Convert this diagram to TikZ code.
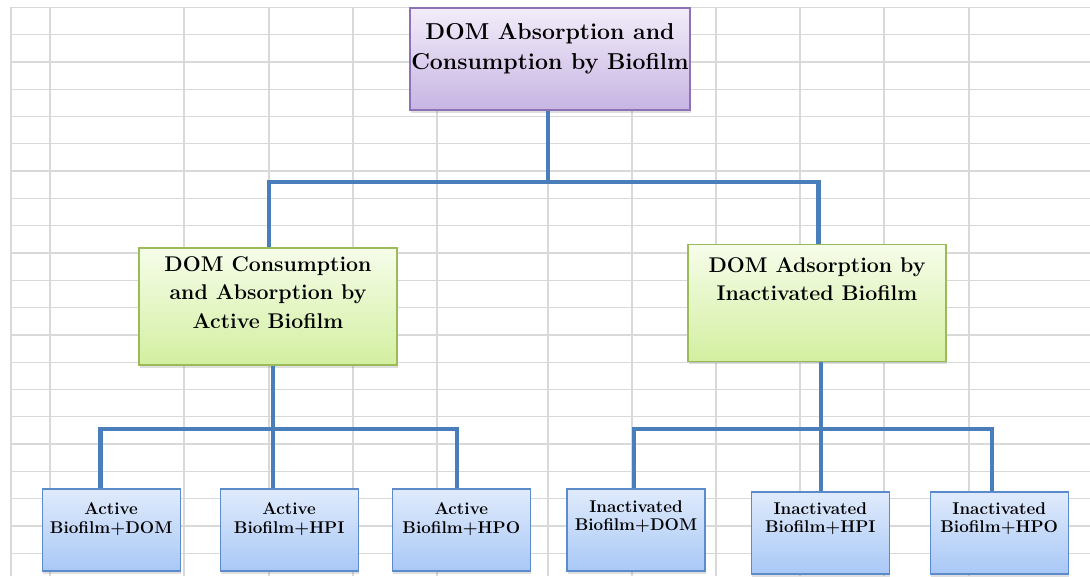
\documentclass[tikz,border=0pt]{standalone}
\usepackage{tikz}
\usetikzlibrary{positioning,shadows}

\definecolor{gridgray}{HTML}{D9D9D9}
\definecolor{linkblue}{HTML}{4A7EBB}
\definecolor{rootTop}{HTML}{F2ECF9}
\definecolor{rootBot}{HTML}{C7B5E3}
\definecolor{rootEdge}{HTML}{8E72B6}
\definecolor{midTop}{HTML}{F6FDEA}
\definecolor{midBot}{HTML}{D3EFA0}
\definecolor{midEdge}{HTML}{9BBB59}
\definecolor{leafTop}{HTML}{E0EBFC}
\definecolor{leafBot}{HTML}{A9C8F6}
\definecolor{leafEdge}{HTML}{5B8BCB}

\tikzset{
  gridline/.style={gridgray, line width=1.3pt},
  link/.style={linkblue, line width=4.5pt},
  box/.style={draw, line width=1.2pt, inner sep=0pt,
    drop shadow={shadow xshift=0.5pt, shadow yshift=-2.5pt, opacity=.25}},
  rootbox/.style={box, draw=rootEdge, top color=rootTop, bottom color=rootBot,
    minimum width=280pt, minimum height=102pt},
  midbox/.style={box, draw=midEdge, top color=midTop, bottom color=midBot,
    minimum width=258pt, minimum height=117pt},
  leafbox/.style={box, draw=leafEdge, top color=leafTop, bottom color=leafBot,
    minimum width=138pt, minimum height=82pt},
  roottxt/.style={inner sep=0pt, align=center, font=\fontsize{23}{30}\selectfont\bfseries},
  midtxt/.style={inner sep=0pt, align=center, font=\fontsize{21.3}{28.5}\selectfont\bfseries},
  leaftxt/.style={inner sep=0pt, align=center, font=\fontsize{17}{18.5}\selectfont\bfseries},
}

\begin{document}
\begin{tikzpicture}[x=1pt, y=-1pt]
            \useasboundingbox (0,0) rectangle (1090,576);
            \fill[white] (0,0) rectangle (1090,576);

            \foreach \gx in {11,50,184,269,353,437,548,632,716,800,884,969}
                \draw[gridline] (\gx,7) -- (\gx,576);
            \foreach \k in {0,...,20}
                \draw[gridline] (11,{7.3+27.3*\k}) -- (1090,{7.3+27.3*\k});

            \node[rootbox] (root)  at (550,59)      {};
            \node[midbox]  (act)   at (268,306.5)   {};
            \node[midbox]  (inact) at (817,303)     {};

            \node[leafbox] (aDOM)  at (111.2,530)   {};
            \node[leafbox] (aHPI)  at (289.2,530)   {};
            \node[leafbox] (aHPO)  at (461.3,530)   {};
            \node[leafbox] (iDOM)  at (636,530)     {};
            \node[leafbox] (iHPI)  at (820.3,533)   {};
            \node[leafbox] (iHPO)  at (999.2,533)   {};

            \coordinate (busA) at (548,182);
            \coordinate (busB) at (273,429);
            \coordinate (busC) at (821,429);

            \draw[link] ([xshift=-2pt]root.south) -- (busA);
            \draw[link] ([xshift=1pt]act.north) |- (busA) -| ([xshift=1.5pt]inact.north);
            \draw[link] (busB |- act.south) -- (busB);
            \draw[link] ([xshift=-10.5pt]aDOM.north) |- (busB) -| ([xshift=-4.3pt]aHPO.north);
            \draw[link] (busB) -- (busB |- aHPI.north);
            \draw[link] (busC |- inact.south) -- (busC);
            \draw[link] ([xshift=-2pt]iDOM.north) |- (busC) -| ([xshift=-7pt]iHPO.north);
            \draw[link] (busC) -- (busC |- iHPI.north);

            \node[roottxt, below=16pt of root.north]  (rootT)  {DOM Absorption and\\Consumption by Biofilm};
            \node[midtxt,  below=9pt of act.north]    (actT)   {DOM Consumption\\and Absorption by\\Active Biofilm};
            \node[midtxt,  below=13pt of inact.north] (inactT) {DOM Adsorption by\\Inactivated Biofilm};

            \node[leaftxt, below=14pt of aDOM.north]  (aDOMT)  {Active\\Biofilm+DOM};
            \node[leaftxt, below=14pt of aHPI.north]  (aHPIT)  {Active\\Biofilm+HPI};
            \node[leaftxt, below=14pt of aHPO.north]  (aHPOT)  {Active\\Biofilm+HPO};
            \node[leaftxt, below=12pt of iDOM.north]  (iDOMT)  {Inactivated\\Biofilm+DOM};
            \node[leaftxt, below=11pt of iHPI.north]  (iHPIT)  {Inactivated\\Biofilm+HPI};
            \node[leaftxt, below=11pt of iHPO.north]  (iHPOT)  {Inactivated\\Biofilm+HPO};
        \end{tikzpicture}
\end{document}
